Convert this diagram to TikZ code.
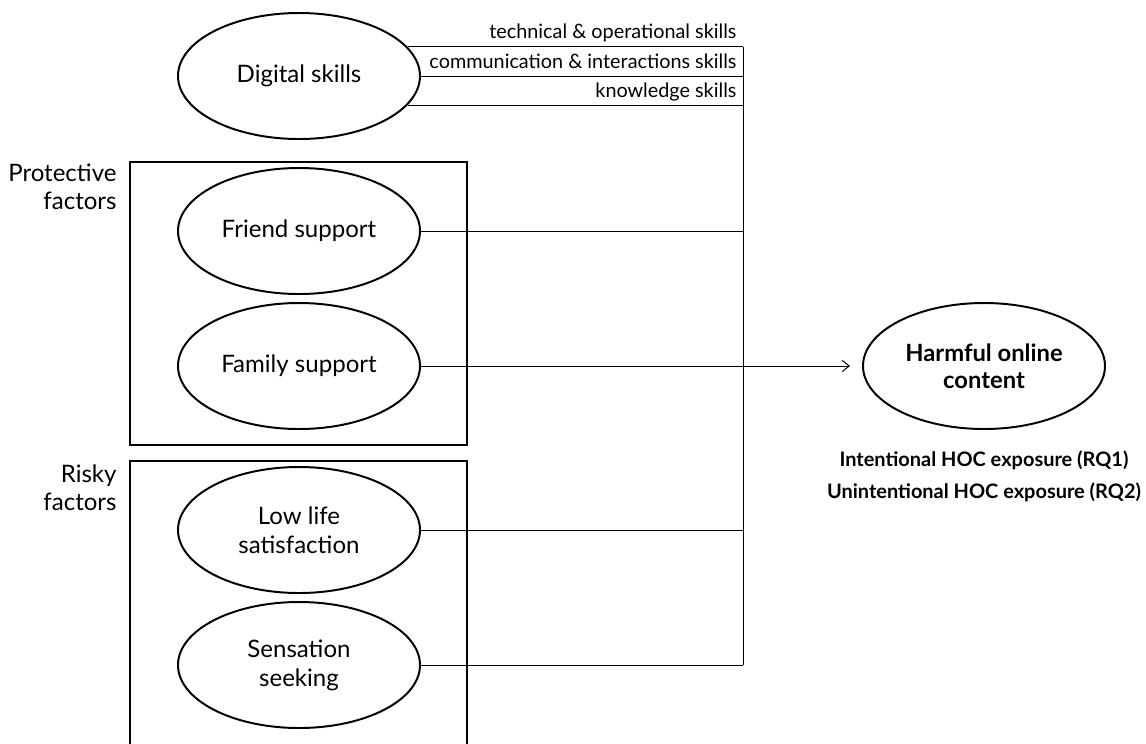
\documentclass[tikz,border=0pt]{standalone}
\usepackage{fontspec}
\setmainfont{Lato}
\usetikzlibrary{arrows.meta,positioning,shapes.geometric}

\begin{document}
\begin{tikzpicture}[->,>={Straight Barb[length=5pt,width=8pt]},line width=0.7pt,
                    node distance=3.375cm,
                    factor/.style={ellipse,draw,line width=1.4pt,minimum width=6.05cm,
                      minimum height=3.15cm,inner sep=0pt,align=center,
                      font=\fontsize{17.1}{20.6}\selectfont},
                    group/.style={draw,-,line width=1.4pt},
                    grouplabel/.style={anchor=north east,align=right,inner sep=0pt,
                      font=\fontsize{17.1}{19.9}\selectfont},
                    skill/.style={anchor=base east,inner sep=0pt,xshift=-0.15cm,yshift=0.2cm,
                      font=\fontsize{14.1}{16}\selectfont},
                    outcome/.style={align=center,inner sep=0pt,
                      font=\bfseries\fontsize{14.2}{22.8}\selectfont}]

  \useasboundingbox (0,0) rectangle (28.65,-18.575);

  	\node[factor] (digital) at (7.475,-1.9)					{Digital skills};
  	\node[factor] (friend) [below of=digital, node distance=3.875cm]	{Friend support};
	\node[factor] (family) [below of=friend]				{Family support};
	\node[factor] (low) [below of=family, node distance=4.1cm]		{Low life\\satisfaction};
	\node[factor] (sensation) [below of=low]				{Sensation\\seeking};
	\node[factor,font=\bfseries\fontsize{16.9}{19.4}\selectfont] (harmful)
		[right of=family, node distance=17.125cm]			{Harmful online\\content};
	\node[outcome] (rq) [below of=harmful, node distance=2.75cm]
		{Intentional HOC exposure (RQ1)\\Unintentional HOC exposure (RQ2)};

	% factor groups
	\draw[group] (3.25,-4.05) rectangle (11.675,-11.125);
	\draw[group] (3.25,-18.7) |- (11.675,-11.525) -- (11.675,-18.7);
	\node[grouplabel] (protective) at (2.925,-4.075)	{Protective\\factors};
	\node[grouplabel] (risky) at (2.925,-11.6)		{Risky\\factors};

	% collecting line
	\coordinate (bus) at (18.575,0);
	\draw[-] (digital.15) -- (digital.15 -| bus) node[skill] {technical \& operational skills};
	\draw[-] (digital) -- (digital -| bus) node[skill] {communication \& interactions skills};
	\draw[-] (digital.-15) -- (digital.-15 -| bus) node[skill] {knowledge skills};
	\draw[-] (digital.15 -| bus) -- (sensation -| bus);

	\path (friend) edge[-]		(friend -| bus);
	\path (low) edge[-]		(low -| bus);
	\path (sensation) edge[-]	(sensation -| bus);
	\path (family) edge[shorten >=0.3cm]	(harmful);

\end{tikzpicture}
\end{document}
